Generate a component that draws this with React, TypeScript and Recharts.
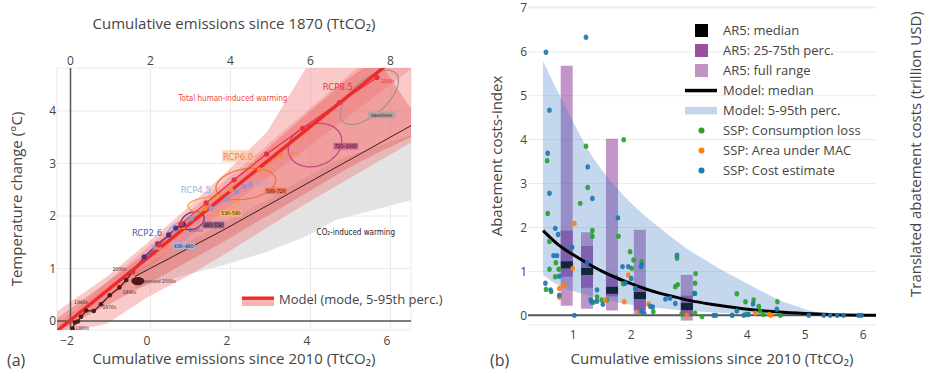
import React from 'react';
import {
  ComposedChart, Area, Line, Scatter, Bar, XAxis, YAxis, CartesianGrid, ReferenceLine,
} from 'recharts';

const FONT = "'Open Sans', 'Noto Sans', sans-serif";
const NARROW = "'DejaVu Sans Condensed', 'Liberation Sans Narrow', 'Open Sans', sans-serif";
const INK = '#444444';

/* ================= Panel (a) data ================= */
const aBottomTicks = [-2, 0, 2, 4, 6];
const aTopTicks = [0, 2, 4, 6, 8];
const aYTicks = [0, 1, 2, 3, 4];

// CO2-induced warming range (grey)
const co2RangeX = [-0.3, 0.5, 2.0, 3.0, 4.0, 4.7, 6.6];
const co2RangeLo = [0.62, 0.78, 1.08, 1.32, 1.62, 1.92, 2.3];
const co2RangeHi = [0.95, 1.3, 1.9, 2.3, 2.75, 3.05, 3.55];

// total human-induced warming, outer range
const totalOuterX = [-2.25, -1, 0, 1, 2, 3, 4, 6.6];
const totalOuterLo = [-0.25, -0.05, 0.45, 0.85, 1.3, 1.78, 2.25, 3.4];
const totalOuterHi = [0.18, 0.85, 1.48, 2.15, 2.85, 3.6, 4.85, 6.5];

// total human-induced warming, inner range
const totalInnerX = [-2.25, 0, 2, 4, 5, 5.75, 6.6];
const totalInnerLo = [-0.2, 0.7, 1.55, 2.45, 2.9, 3.2, 3.5];
const totalInnerHi = [0.05, 1.3, 2.6, 3.95, 4.6, 5.0, 4.05];

// model 5-95th percentile
const modelRangeX = [-2.25, 0, 2, 4, 6.6];
const modelRangeLo = [-0.3, 1.0, 2.15, 3.3, 4.8];
const modelRangeHi = [-0.08, 1.4, 2.7, 4.0, 5.7];

// model mode
const modelModeX = [-2.25, 6.6];
const modelModeY = [-0.19, 5.25];

// CO2-induced warming central line
const co2LineX = [-0.3, 1.9, 6.6];
const co2LineY = [0.85, 1.73, 3.72];

// observations (decades)
const histX = [-1.86, -1.8, -1.73, -1.65, -1.52, -1.33, -1.15, -0.93, -0.69, -0.52, -0.36];
const histY = [-0.14, -0.03, -0.01, 0.08, 0.2, 0.19, 0.32, 0.49, 0.64, 0.78, 0.94];

// RCP scenarios
const rcp26X = [-0.36, -0.07, 0.27, 0.54, 0.72, 0.85, 0.91];
const rcp26Y = [0.94, 1.22, 1.47, 1.64, 1.77, 1.82, 1.84];
const rcp45X = [-0.36, 0.2, 0.7, 1.1, 1.6, 1.99, 2.24, 2.43, 2.58];
const rcp45Y = [0.94, 1.4, 1.75, 1.95, 2.15, 2.32, 2.46, 2.56, 2.6];
const rcp60X = [-0.36, 0.3, 0.9, 1.45, 2.1, 2.81, 3.35];
const rcp60Y = [0.94, 1.4, 1.8, 2.15, 2.5, 2.88, 3.16];
const rcp85X = [-0.36, 0.3, 0.85, 1.48, 2.18, 2.99, 3.89, 4.81, 5.75];
const rcp85Y = [0.94, 1.45, 1.85, 2.25, 2.69, 3.18, 3.67, 4.16, 4.64];

// cumulative-emission range ellipses: centre, half-axis vectors (data units)
const ellName = ['430–480', '480–530', '530–580', '580–720', '720–1000', 'baselines'];
const ellCx = [0.79, 1.14, 1.64, 2.47, 4.2, 5.56];
const ellCy = [1.68, 1.91, 2.21, 2.61, 3.35, 4.26];
const ellUx = [0.25, 0.27, 0.61, 0.72, 0.6, 0.7];
const ellUy = [0.1, 0.1, 0.05, 0.15, 0.25, 0.42];
const ellVx = [-0.1, -0.1, -0.1, -0.2, -0.3, -0.2];
const ellVy = [0.16, 0.14, 0.15, 0.26, 0.33, 0.3];
const ellLabelX = [0.92, 1.66, 2.1, 3.22, 4.97, 5.87];
const ellLabelY = [1.43, 1.83, 2.05, 2.48, 3.33, 3.92];

const obsEllX = [-0.23];
const obsEllY = [0.76];

// text annotations
const rcpNames = ['RCP2.6', 'RCP4.5', 'RCP6.0', 'RCP8.5'];
const rcpNameX = [0.0, 1.22, 2.28, 4.77];
const rcpNameY = [1.68, 2.51, 3.14, 4.47];
const rcpEndX = [1.22, 2.85, 3.68, 6.02];
const rcpEndY = [1.73, 2.61, 3.18, 4.58];
const decadeText = ['1880s', '1940s', '1970s', '1990s', '2000s', 'observed 2000s'];
const decadeX = [-1.62, -1.65, -0.94, -0.44, -0.69, 0.27];
const decadeY = [-0.13, 0.37, 0.26, 0.55, 1.0, 0.76];
const warmText = ['Total human-induced warming', 'CO₂-induced warming'];
const warmX = [2.15, 5.22];
const warmY = [4.25, 1.69];

/* ================= Panel (b) data ================= */
const bXTicks = [1, 2, 3, 4, 5, 6];
const bYTicks = [0, 1, 2, 3, 4, 5, 6, 7];
const bRTicks = [0, 20, 40, 60, 80, 100, 120, 140, 160];

const ar5X = [0.89, 1.24, 1.67, 2.15, 2.96];
const ar5FullLo = [0.22, 0.15, 0.11, 0.03, -0.12];
const ar5FullHi = [5.68, 1.89, 4.02, 1.95, 0.92];
const ar5IqrLo = [0.88, 0.63, 0.43, 0.12, 0.02];
const ar5IqrHi = [1.93, 1.58, 0.92, 0.62, 0.45];
const ar5Median = [1.15, 1.0, 0.57, 0.45, 0.2];

const bandX = [0.48, 0.75, 1.0, 1.25, 1.5, 1.75, 2.0, 2.25, 2.5, 2.75, 3.0, 3.25, 3.5, 3.75, 4.0, 4.25, 4.5, 4.75, 5.0, 5.25, 5.5, 6.0, 6.22];
const bandHi = [5.78, 5.05, 4.4, 3.78, 3.3, 2.9, 2.55, 2.25, 1.98, 1.72, 1.48, 1.28, 1.08, 0.9, 0.72, 0.55, 0.38, 0.25, 0.14, 0.06, 0.02, 0.0, 0.0];
const bandLo = [0.92, 0.68, 0.55, 0.46, 0.37, 0.3, 0.24, 0.2, 0.16, 0.13, 0.1, 0.08, 0.06, 0.05, 0.04, 0.03, 0.02, 0.015, 0.01, 0.005, 0.0, 0.0, 0.0];

const medX = [0.48, 0.75, 1.0, 1.25, 1.5, 1.75, 2.0, 2.25, 2.5, 2.75, 3.0, 3.5, 4.0, 4.5, 5.0, 5.5, 6.22];
const medY = [1.93, 1.6, 1.38, 1.18, 1.0, 0.85, 0.72, 0.6, 0.5, 0.42, 0.34, 0.23, 0.14, 0.08, 0.04, 0.015, 0.0];

const sspConsX = [0.55, 0.56, 0.59, 0.59, 0.53, 0.62, 0.69, 0.75, 0.7, 1.22, 1.25, 1.12, 1.33, 1.33, 1.41, 1.35, 1.49, 1.58, 1.87, 1.78, 1.98, 2.04, 2.01, 2.18, 1.86, 2.15, 2.38, 2.79, 2.76, 2.8, 3.1, 3.08, 3.11, 2.87, 3.22, 3.1, 3.82, 3.97, 4.11, 4.2, 4.22, 4.52, 4.57, 3.74, 3.98, 4.28];
const sspConsY = [3.52, 2.32, 1.68, 1.05, 0.59, 0.54, 0.88, 1.05, 1.2, 3.85, 2.91, 2.55, 1.93, 1.8, 0.42, 0.3, 0.35, 0.35, 4.0, 1.8, 1.45, 1.26, 1.07, 1.22, 0.72, 0.08, 0.08, 1.3, 0.65, 0.7, 0.73, 0.5, 0.95, 0.03, -0.03, 0.05, 0.49, 0.31, 0.35, 0.2, 0.1, 0.31, 0.0, 0.0, 0.02, 0.02];
const sspMacX = [1.02, 0.76, 0.84, 0.76, 0.99, 1.32, 1.55, 1.88, 1.95, 2.16, 2.3, 2.96, 4.14, 4.41, 4.38];
const sspMacY = [2.09, 0.61, 0.69, 0.41, 1.07, 0.32, 0.35, 0.31, 0.92, 0.08, 0.26, 0.0, 0.05, 0.0, 0.02];
const sspCostX = [0.53, 1.22, 0.59, 0.56, 0.59, 1.25, 1.33, 1.77, 0.69, 0.74, 0.98, 0.66, 0.72, 0.52, 0.61, 0.76, 0.76, 1.02, 1.24, 1.41, 1.3, 1.32, 1.41, 1.51, 1.85, 1.95, 2.17, 1.9, 2.0, 2.07, 2.18, 2.18, 2.22, 2.33, 2.37, 2.59, 2.67, 2.76, 2.79, 3.1, 3.42, 3.46, 3.74, 3.82, 3.94, 4.02, 4.1, 4.51, 5.06, 5.32, 5.43, 5.55, 5.66, 5.92, 5.97];
const sspCostY = [5.99, 6.33, 4.67, 3.69, 2.78, 3.38, 2.66, 2.22, 1.98, 1.84, 1.55, 1.36, 1.36, 0.73, 0.58, 0.89, 0.46, 0.0, 1.2, 0.58, 0.35, 0.3, 0.32, 0.25, 1.11, 1.11, 1.11, 0.73, 0.84, 0.61, 1.15, 0.1, 0.05, 0.2, 0.19, 0.37, 0.39, 0.27, 1.37, 0.5, 0.0, 0.0, 0.0, 0.1, 0.0, 0.02, 0.26, 0.14, 0.0, 0.0, 0.0, 0.0, 0.0, 0.0, 0.0];

/* ================= helpers ================= */
const pts = (xs: number[], ys: number[]) => xs.map((x, i) => ({ x, y: ys[i] }));
const rng = (xs: number[], lo: number[], hi: number[]) => xs.map((x, i) => ({ x, lo: lo[i], hi: hi[i] }));
const rangeKey = (d: any) => [d.lo, d.hi];
const ellipseOutline = (i: number) => {
  const out: { x: number; y: number }[] = [];
  for (let k = 0; k <= 60; k++) {
    const t = (k / 60) * Math.PI * 2;
    out.push({
      x: ellCx[i] + ellUx[i] * Math.cos(t) + ellVx[i] * Math.sin(t),
      y: ellCy[i] + ellUy[i] * Math.cos(t) + ellVy[i] * Math.sin(t),
    });
  }
  return out;
};
const minus = (v: number) => (v < 0 ? `−${Math.abs(v)}` : `${v}`);

const RCP_LINE = ['#4e2f86', '#9a92cc', '#f4873c', '#e8303a'];
const RCP_TEXT = ['#4f5bb0', '#93b4e4', '#f2884a', '#e8373a'];
const ELL_STROKE = ['#97a8e0', '#6a3f7c', '#f6a243', '#f27636', '#c04a86', '#a89090'];
const ELL_BOX = ['#a9b4e2', '#8a5f8c', '#f8b770', '#f27c58', '#c85f90', '#b8a2a2'];
const WARM_COLOR = ['#f04848', '#222222'];
const GREEN = '#2ca02c';
const ORANGE = '#ff7f0e';
const BLUE = '#1f77b4';
const TITLE = 15;

const tickStyle = { fill: INK, fontSize: 12, fontFamily: FONT };

/* ================= Panel (a) ================= */
function PanelA() {
  const annotations = [
    ...rcpNames.map((t, i) => ({ x: rcpNameX[i], y: rcpNameY[i], t, kind: 'rcp', i })),
    ...rcpEndX.map((x, i) => ({ x, y: rcpEndY[i], t: '2090s', kind: 'end', i })),
    ...decadeText.map((t, i) => ({ x: decadeX[i], y: decadeY[i], t, kind: 'dec', i })),
    ...warmText.map((t, i) => ({ x: warmX[i], y: warmY[i], t, kind: 'warm', i })),
    ...ellName.map((t, i) => ({ x: ellLabelX[i], y: ellLabelY[i], t, kind: 'box', i })),
  ];
  const annShape = (p: any) => {
    const d = p.payload;
    const { cx, cy } = p;
    if (d.kind === 'rcp') {
      return (
        <g>
          {d.i === 2 && <rect x={cx - 16} y={cy - 6} width={32} height={12} fill="#f9c6a4" fillOpacity={0.7} />}
          <text x={cx} y={cy + 3.5} textAnchor="middle" fontSize={9.5} fontFamily={NARROW} fill={RCP_TEXT[d.i]}>{d.t}</text>
        </g>
      );
    }
    if (d.kind === 'end') {
      return <text x={cx} y={cy + 2} textAnchor="middle" fontSize={5} fontFamily={NARROW} fill={RCP_TEXT[d.i]}>{d.t}</text>;
    }
    if (d.kind === 'dec') {
      return <text x={cx} y={cy + 2} textAnchor="middle" fontSize={5} fontFamily={NARROW} fill="#4a2020">{d.t}</text>;
    }
    if (d.kind === 'warm') {
      return <text x={cx} y={cy + 3} textAnchor="middle" fontSize={8} fontFamily={NARROW} fill={WARM_COLOR[d.i]}>{d.t}</text>;
    }
    const w = d.t.length * 2.7 + 3;
    return (
      <g>
        <rect x={cx - w / 2} y={cy - 3.3} width={w} height={6.6} fill={ELL_BOX[d.i]} />
        <text x={cx} y={cy + 1.8} textAnchor="middle" fontSize={5} fontFamily={NARROW} fill="#2a1010">{d.t}</text>
      </g>
    );
  };

  const common = { xAxisId: 'b', yAxisId: 'y', isAnimationActive: false } as const;
  return (
    <ComposedChart width={460} height={375} margin={{ top: 0, right: 49, bottom: 0, left: 0 }}>
      <CartesianGrid xAxisId="t" yAxisId="y" stroke="#ebebeb" strokeWidth={1} />
      <XAxis
        xAxisId="b" dataKey="x" type="number" domain={[-2.25, 6.6]} ticks={aBottomTicks} allowDataOverflow
        height={45} axisLine={false} tickLine={false} tickSize={0} tickMargin={6} tick={tickStyle}
        tickFormatter={minus} interval={0}
        label={{
          content: (p: any) => {
            const vb = p.viewBox;
            return (
              <g>
                <text x={vb.x + vb.width / 2} y={vb.y + 34} textAnchor="middle" fontSize={TITLE} fontFamily={FONT} fill={INK}>
                  Cumulative emissions since 2010  (TtCO₂)
                </text>
                <text x={7} y={vb.y + 36} fontSize={16} fontFamily={FONT} fill={INK}>(a)</text>
              </g>
            );
          },
        }}
      />
      <XAxis
        xAxisId="t" orientation="top" dataKey="x" type="number" domain={[-0.3375, 8.5125]} ticks={aTopTicks}
        allowDataOverflow height={68} axisLine={false} tickLine={false} tickSize={0} tickMargin={3} tick={tickStyle} interval={0}
        label={{
          content: (p: any) => {
            const vb = p.viewBox;
            return (
              <text x={vb.x + vb.width / 2} y={28.5} textAnchor="middle" fontSize={TITLE} fontFamily={FONT} fill={INK}>
                Cumulative emissions since 1870 (TtCO₂)
              </text>
            );
          },
        }}
      />
      <YAxis
        yAxisId="y" dataKey="y" type="number" domain={[-0.171, 4.819]} ticks={aYTicks} allowDataOverflow
        width={57} axisLine={false} tickLine={false} tickSize={0} tickMargin={1} tick={tickStyle} interval={0}
        label={{
          content: (p: any) => {
            const vb = p.viewBox;
            const cy = vb.y + vb.height / 2;
            return (
              <text x={22} y={cy} transform={`rotate(-90 22 ${cy})`} textAnchor="middle" fontSize={TITLE} fontFamily={FONT} fill={INK}>
                Temperature change (°C)
              </text>
            );
          },
        }}
      />

      <Area {...common} zIndex={10} data={rng(co2RangeX, co2RangeLo, co2RangeHi)} dataKey={rangeKey} type="linear" stroke="none" fill="#e3e3e3" fillOpacity={1} />
      <Area {...common} zIndex={20} data={rng(totalOuterX, totalOuterLo, totalOuterHi)} dataKey={rangeKey} type="linear" stroke="none" fill="#f06868" fillOpacity={0.36} />
      <Area {...common} zIndex={30} data={rng(totalInnerX, totalInnerLo, totalInnerHi)} dataKey={rangeKey} type="linear" stroke="none" fill="#e04c4c" fillOpacity={0.34} />
      <Area {...common} zIndex={40} data={rng(modelRangeX, modelRangeLo, modelRangeHi)} dataKey={rangeKey} type="linear" stroke="none" fill="#f05a5a" fillOpacity={0.25} />

      <ReferenceLine xAxisId="t" yAxisId="y" x={0} stroke="#555" strokeWidth={1.5} zIndex={50} />
      <ReferenceLine xAxisId="b" yAxisId="y" y={0} stroke="#555" strokeWidth={1.5} zIndex={50} />

      {ellName.map((n, i) => (
        <Line key={n} {...common} zIndex={60} data={ellipseOutline(i)} dataKey="y" type="linear" stroke={ELL_STROKE[i]} strokeWidth={1.3} dot={false} />
      ))}
      <Scatter {...common} zIndex={60} data={pts(obsEllX, obsEllY)}
        shape={(p: any) => <ellipse cx={p.cx} cy={p.cy} rx={6.5} ry={4.2} fill="#4e1818" />} />

      <Line {...common} zIndex={70} data={pts(co2LineX, co2LineY)} dataKey="y" type="linear" stroke="#2a1010" strokeWidth={0.9} dot={false} />

      <Line {...common} zIndex={80} data={pts(histX, histY)} dataKey="y" type="linear" stroke="#4d1a1a" strokeWidth={1.3} dot={{ r: 2.3, fill: '#4d1a1a', stroke: 'none' }} />
      <Line {...common} zIndex={80} data={pts(rcp60X, rcp60Y)} dataKey="y" type="linear" stroke={RCP_LINE[2]} strokeWidth={1.2} dot={{ r: 2.6, fill: RCP_LINE[2], stroke: 'none' }} />
      <Line {...common} zIndex={80} data={pts(rcp45X, rcp45Y)} dataKey="y" type="linear" stroke={RCP_LINE[1]} strokeWidth={1.2} dot={{ r: 2.6, fill: RCP_LINE[1], stroke: 'none' }} />
      <Line {...common} zIndex={80} data={pts(rcp26X, rcp26Y)} dataKey="y" type="linear" stroke={RCP_LINE[0]} strokeWidth={1.2} dot={{ r: 2.6, fill: RCP_LINE[0], stroke: 'none' }} />
      <Line {...common} zIndex={80} data={pts(rcp85X, rcp85Y)} dataKey="y" type="linear" stroke={RCP_LINE[3]} strokeWidth={1.2} dot={{ r: 2.6, fill: RCP_LINE[3], stroke: 'none' }} />

      <Line {...common} zIndex={90} data={pts(modelModeX, modelModeY)} dataKey="y" type="linear" stroke="#ee2a2a" strokeWidth={3.4} dot={false} />

      <Scatter {...common} zIndex={100} data={annotations} shape={annShape} />
    </ComposedChart>
  );
}

/* ================= Panel (b) ================= */
function PanelB() {
  const ar5Table = ar5X.map((x, i) => ({ x, fullLo: ar5FullLo[i], fullHi: ar5FullHi[i], iqrLo: ar5IqrLo[i], iqrHi: ar5IqrHi[i], y: ar5Median[i] }));
  const dotShape = (color: string) => (p: any) => <ellipse cx={p.cx} cy={p.cy} rx={2.3} ry={2.7} fill={color} fillOpacity={0.92} />;
  return (
    <ComposedChart width={465} height={375} data={ar5Table} margin={{ top: 7, right: 0, bottom: 0, left: 0 }}>
      <CartesianGrid xAxisId="x" yAxisId="L" vertical={false} stroke="#ebebeb" strokeWidth={1} />
      <XAxis xAxisId="bx1" orientation="top" height={0} dataKey="x" type="number" domain={[0.22, 6.22]} allowDataOverflow hide />
      <XAxis xAxisId="bx2" orientation="top" height={0} dataKey="x" type="number" domain={[0.22, 6.22]} allowDataOverflow hide />
      <XAxis
        xAxisId="x" dataKey="x" type="number" domain={[0.22, 6.22]} ticks={bXTicks} allowDataOverflow interval={0}
        height={50} axisLine={false} tickLine={false} tickSize={0} tickMargin={5} tick={tickStyle}
        label={{
          content: (p: any) => {
            const vb = p.viewBox;
            return (
              <g>
                <text x={vb.x + vb.width / 2 + 10} y={vb.y + 39} textAnchor="middle" fontSize={TITLE} fontFamily={FONT} fill={INK}>
                  Cumulative emissions since 2010 (TtCO₂)
                </text>
                <text x={30} y={vb.y + 41} fontSize={16} fontFamily={FONT} fill={INK}>(b)</text>
              </g>
            );
          },
        }}
      />
      <YAxis
        yAxisId="L" dataKey="y" type="number" domain={[-0.22, 7.02]} ticks={bYTicks} allowDataOverflow interval={0}
        width={68} axisLine={false} tickLine={false} tickSize={0} tickMargin={1} tick={tickStyle}
        label={{
          content: () => (
            <text x={42} y={156} transform="rotate(-90 42 156)" textAnchor="middle" fontSize={TITLE} fontFamily={FONT} fill={INK}>
              Abatement costs-index
            </text>
          ),
        }}
      />
      <YAxis
        yAxisId="R" orientation="right" type="number" domain={[-5.13, 163.6]} ticks={bRTicks} interval={0}
        width={49} axisLine={false} tickLine={false} tickSize={0} tickMargin={5} tick={tickStyle}
        label={{
          content: () => (
            <text x={461} y={297} transform="rotate(-90 461 297)" textAnchor="start" fontSize={15} fontFamily={FONT} fill={INK}>
              Translated abatement costs (trillion USD)
            </text>
          ),
        }}
      />

      <Bar xAxisId="bx1" yAxisId="L" zIndex={50} dataKey={(d: any) => [d.fullLo, d.fullHi]} barSize={12} fill="#984ea3" fillOpacity={0.6} isAnimationActive={false} />
      <Bar xAxisId="bx2" yAxisId="L" zIndex={55} dataKey={(d: any) => [d.iqrLo, d.iqrHi]} barSize={12} fill="#984ea3" fillOpacity={0.9} isAnimationActive={false} />
      <Scatter xAxisId="x" yAxisId="L" zIndex={60} data={ar5Table} isAnimationActive={false}
        shape={(p: any) => <rect x={p.cx - 6} y={p.cy - 3.5} width={12} height={7} fill="#000" />} />

      <Area xAxisId="x" yAxisId="L" zIndex={100} data={rng(bandX, bandLo, bandHi)} dataKey={rangeKey} type="monotone" stroke="none" fill="#3a7cc4" fillOpacity={0.3} isAnimationActive={false} />
      <ReferenceLine xAxisId="x" yAxisId="L" y={0} stroke="#555" strokeWidth={2} zIndex={350} />
      <Line xAxisId="x" yAxisId="L" zIndex={400} data={pts(medX, medY)} dataKey="y" type="monotone" stroke="#000" strokeWidth={3} dot={false} isAnimationActive={false} />

      <Scatter xAxisId="x" yAxisId="L" zIndex={600} data={pts(sspConsX, sspConsY)} shape={dotShape(GREEN)} isAnimationActive={false} />
      <Scatter xAxisId="x" yAxisId="L" zIndex={600} data={pts(sspMacX, sspMacY)} shape={dotShape(ORANGE)} isAnimationActive={false} />
      <Scatter xAxisId="x" yAxisId="L" zIndex={600} data={pts(sspCostX, sspCostY)} shape={dotShape(BLUE)} isAnimationActive={false} />
    </ComposedChart>
  );
}

/* ================= Legends ================= */
const legendBLabels = ['AR5: median', 'AR5: 25-75th perc.', 'AR5: full range', 'Model: median', 'Model: 5-95th perc.', 'SSP: Consumption loss', 'SSP: Area under MAC', 'SSP: Cost estimate'];

function LegendSwatch({ i }: { i: number }) {
  if (i <= 2) {
    const fills = ['#000000', '#9b4fa0', '#c192c6'];
    return <rect x={10} y={1} width={13} height={13} fill={fills[i]} />;
  }
  if (i === 3) return <rect x={0} y={5.8} width={32} height={3.5} fill="#000" />;
  if (i === 4) return <rect x={0} y={3.8} width={32} height={7.6} fill="#c3d5eb" />;
  const c = [GREEN, ORANGE, BLUE][i - 5];
  return <circle cx={16.5} cy={7.5} r={3} fill={c} />;
}

export default function App() {
  return (
    <div style={{ position: 'absolute', left: 0, top: 0, width: 925, height: 375, background: '#fff', overflow: 'hidden' }}>
      <div style={{ position: 'absolute', left: 0, top: 0 }}><PanelA /></div>
      <div style={{ position: 'absolute', left: 460, top: 0 }}><PanelB /></div>

      {/* panel (a) legend */}
      <div style={{ position: 'absolute', left: 242, top: 292, display: 'flex', alignItems: 'center', fontFamily: FONT, fontSize: 13, color: INK, whiteSpace: 'nowrap' }}>
        <svg width={32} height={12} style={{ display: 'block' }}>
          <rect x={0} y={3} width={32} height={9} fill="#f6b3b3" />
          <rect x={0} y={2.5} width={32} height={3.4} fill="#ee2a2a" />
        </svg>
        <span style={{ marginLeft: 5, lineHeight: '15px' }}>Model (mode, 5-95th perc.)</span>
      </div>

      {/* panel (b) legend */}
      {legendBLabels.map((t, i) => (
        <div key={t} style={{ position: 'absolute', left: 685, top: 22.5 + i * 20, height: 15, display: 'flex', alignItems: 'center', fontFamily: FONT, fontSize: 13, color: INK, whiteSpace: 'nowrap' }}>
          <svg width={33} height={15} style={{ display: 'block' }}><LegendSwatch i={i} /></svg>
          <span style={{ marginLeft: 5, lineHeight: '15px' }}>{t}</span>
        </div>
      ))}
    </div>
  );
}
